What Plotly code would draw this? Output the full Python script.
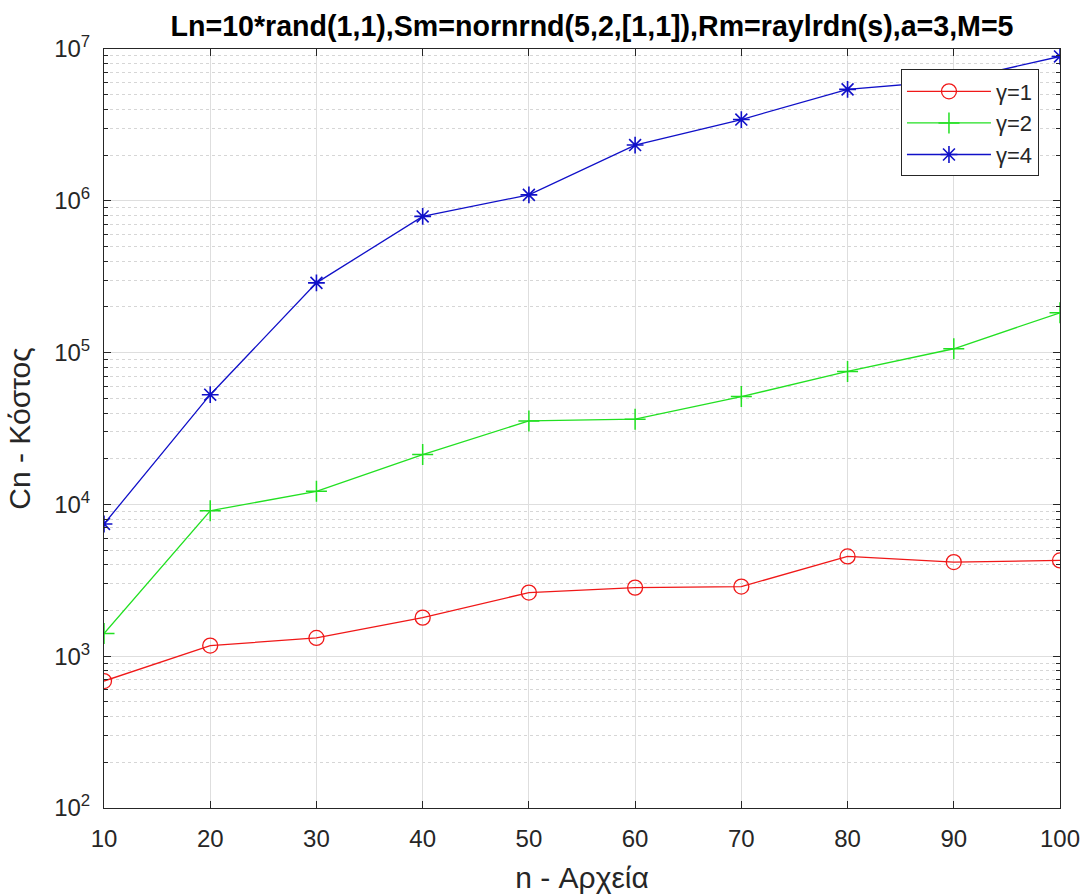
import plotly.graph_objects as go

n_files = [10, 20, 30, 40, 50, 60, 70, 80, 90, 100]
cost_g1 = [686, 1175, 1319, 1795, 2624, 2830, 2875, 4540, 4170, 4275]
cost_g2 = [1409, 9085, 12200, 21300, 35500, 36400, 51300, 75100, 106000, 183000]
cost_g4 = [7430, 52800, 288000, 789000, 1094000, 2330000, 3430000, 5420000, 6200000, 8930000]
series_names = ["γ=1", "γ=2", "γ=4"]
y_tick_vals = [1e2, 1e3, 1e4, 1e5, 1e6, 1e7]
y_tick_text = ["10<sup>2</sup>", "10<sup>3</sup>", "10<sup>4</sup>", "10<sup>5</sup>", "10<sup>6</sup>", "10<sup>7</sup>"]
x_tick_vals = [10, 20, 30, 40, 50, 60, 70, 80, 90, 100]

FONT = "Liberation Sans, Arial, sans-serif"
AX = "#262626"

fig = go.Figure()
fig.add_trace(go.Scatter(x=n_files, y=cost_g1, name=series_names[0], mode="lines+markers",
                         line=dict(color="#f01818", width=1.3),
                         marker=dict(symbol="circle-open", size=15, color="#f01818", line=dict(width=1.3))))
fig.add_trace(go.Scatter(x=n_files, y=cost_g2, name=series_names[1], mode="lines+markers",
                         line=dict(color="#22e022", width=1.3),
                         marker=dict(symbol="cross-thin-open", size=15, color="#22e022", line=dict(width=1.5))))
fig.add_trace(go.Scatter(x=n_files, y=cost_g4, name=series_names[2], mode="lines+markers",
                         line=dict(color="#1010c8", width=1.3),
                         marker=dict(symbol="asterisk-open", size=14, color="#1010c8", line=dict(width=1.6))))

fig.update_layout(
    width=1087, height=895,
    margin=dict(l=104, r=27, t=49, b=87),
    paper_bgcolor="white", plot_bgcolor="white",
    font=dict(family=FONT, color=AX, size=24),
    title=dict(text="<b>Ln=10*rand(1,1),Sm=nornrnd(5,2,[1,1]),Rm=raylrdn(s),a=3,M=5</b>",
               x=0.5105, xref="paper", xanchor="center", y=1 - 26 / 895, yref="container", yanchor="middle",
               font=dict(size=28.6, color="black", family=FONT)),
    showlegend=True,
    legend=dict(x=0.978, y=0.973, xanchor="right", yanchor="top", bgcolor="white",
                bordercolor="#262626", borderwidth=1, font=dict(size=22, color=AX, family=FONT),
                itemwidth=84, tracegroupgap=0),
)

fig.update_xaxes(range=[10, 100], tickvals=x_tick_vals, ticks="inside", ticklen=7, tickcolor=AX,
                 showline=True, linecolor=AX, linewidth=1, mirror="ticks", automargin=False,
                 showgrid=True, gridcolor="#dedede", gridwidth=1, zeroline=False,
                 tickfont=dict(size=24, color=AX), ticklabelstandoff=9,
                 title=dict(text="n - Αρχεία", font=dict(size=30, color=AX), standoff=16))
fig.update_yaxes(type="log", range=[2, 7], tickvals=y_tick_vals, ticktext=y_tick_text,
                 ticks="inside", ticklen=7, tickcolor=AX, automargin=False,
                 showline=True, linecolor=AX, linewidth=1, mirror="ticks",
                 showgrid=True, gridcolor="#dedede", gridwidth=1, zeroline=False,
                 tickfont=dict(size=24, color=AX), ticklabelstandoff=8,
                 minor=dict(dtick="D1", ticks="inside", ticklen=4, tickcolor=AX, showgrid=True,
                            gridcolor="#d6d6d6", griddash="dot", gridwidth=1),
                 title=dict(text="Cn - Κόστος", font=dict(size=30, color=AX), standoff=14))

fig.write_html("out.html")
